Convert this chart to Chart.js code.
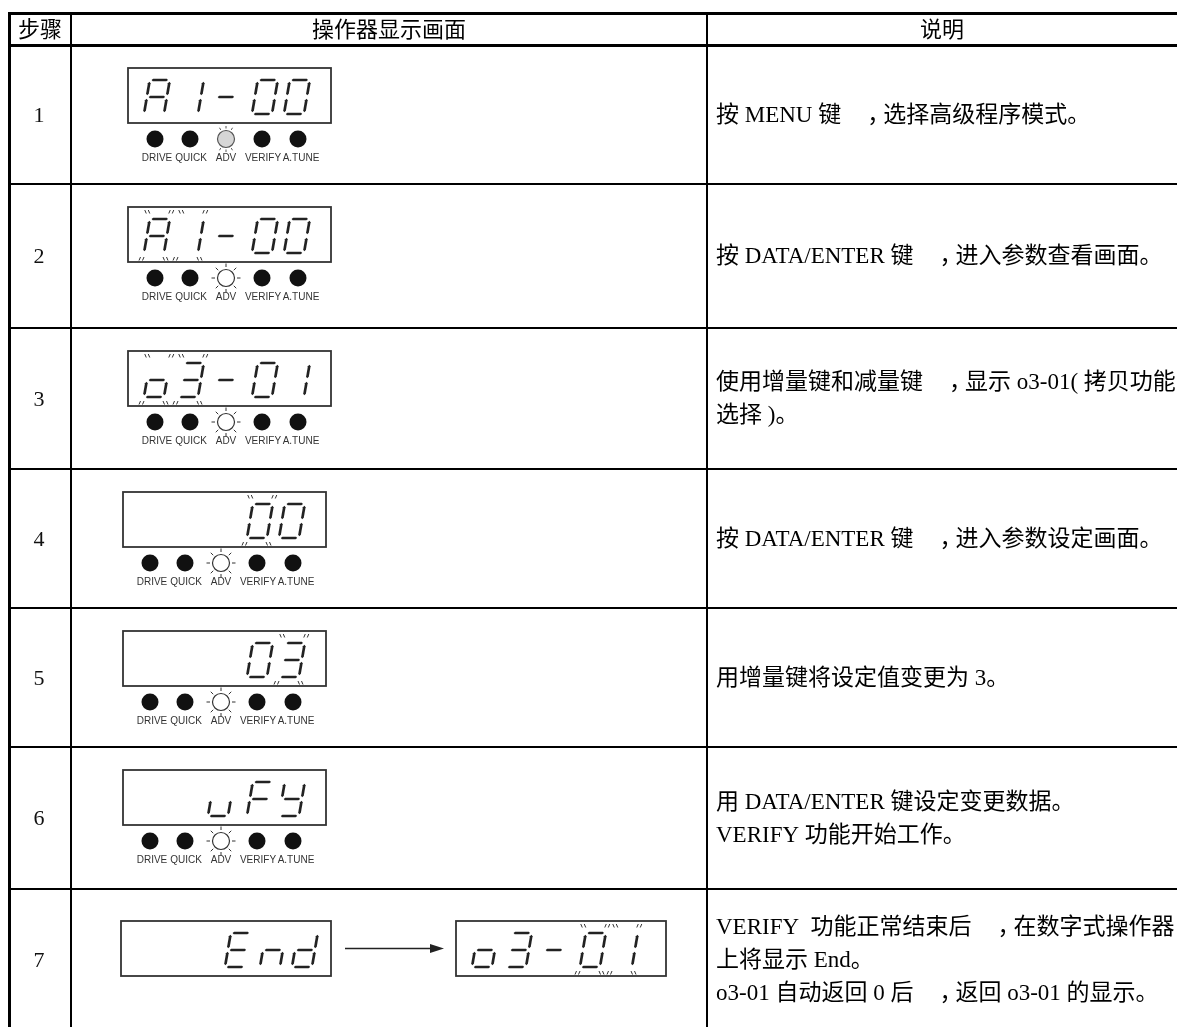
<!DOCTYPE html>
<html>
<head>
<meta charset="utf-8">
<script src="https://cdn.jsdelivr.net/npm/chart.js@4/dist/chart.umd.min.js"></script>
<style>
  html, body { margin: 0; padding: 0; background: #fff; }
  canvas { display: block; }
</style>
</head>
<body>
<canvas id="steps" width="1177" height="1027"></canvas>
<script>
// table content
const headers = ['步骤', '操作器显示画面', '说明'];
const steps = ['1', '2', '3', '4', '5', '6', '7'];
const displays = ['A1-00', 'A1-00', 'o3-01', '   00', '   03', '  uFY', '  End'];
const blinkDigits = [[], [0, 1], [0, 1], [3], [4], [], []];
const advLamp = ['dim', 'on', 'on', 'on', 'on', 'on', null];
const lampLabels = ['DRIVE', 'QUICK', 'ADV', 'VERIFY', 'A.TUNE'];
const finalDisplay = 'o3-01';
const finalBlink = [3, 4];
const notes = [
  ['按 MENU 键，选择高级程序模式。'],
  ['按 DATA/ENTER 键，进入参数查看画面。'],
  ['使用增量键和减量键，显示 o3-01( 拷贝功能', '选择 )。'],
  ['按 DATA/ENTER 键，进入参数设定画面。'],
  ['用增量键将设定值变更为 3。'],
  ['用 DATA/ENTER 键设定变更数据。', 'VERIFY 功能开始工作。'],
  ['VERIFY  功能正常结束后，在数字式操作器', '上将显示 End。', 'o3-01 自动返回 0 后，返回 o3-01 的显示。']
];

// layout (pixels of the page)
const colEdges = [9, 71, 707];
const colWidths = [3, 2, 2];
const rowEdges = [13, 45, 184, 328, 469, 608, 747, 889, 1031];
const rowWidths = [3, 3, 2, 2, 2, 2, 2, 2];

const SEGS = {
  '0': 'abcdef', '1': 'bc', '3': 'abcdg', 'A': 'abcefg', '-': 'g', 'o': 'cdeg',
  'u': 'cde', 'F': 'aefg', 'Y': 'bcdfg', 'E': 'adefg', 'n': 'ceg', 'd': 'bcdeg', ' ': ''
};
const cellOffsets = [16, 50, 85, 124, 156];
const endOffsets = [16, 50, 104, 139, 171];
const ledOffsets = [27, 62, 98, 134, 170];
const labelOffsets = [29, 63, 98, 135, 173];

const CJK = /[\u3000-\u303f\u3400-\u9fff\uff00-\uffef]/;

function drawMixed(ctx, text, x0, base) {
  const runs = text.match(/，|[\u3000-\u303f\u3400-\u9fff\uff00-\uff0b\uff0d-\uffef]+|[^\u3000-\u303f\u3400-\u9fff\uff00-\uffef]+/g);
  let xx = x0;
  ctx.textAlign = 'left';
  ctx.textBaseline = 'alphabetic';
  runs.forEach(r => {
    if (r === '，') {
      ctx.font = '23px "Noto Sans CJK SC"';
      ctx.fillText(r, xx + 26, base);
      xx += 42;
      return;
    }
    ctx.font = CJK.test(r) ? '23px "Noto Sans CJK SC"' : '23px "Liberation Serif"';
    ctx.fillText(r, xx, base);
    xx += ctx.measureText(r).width;
  });
}

function drawDigit(ctx, ch, x0, y0, blink) {
  const w = 20, h = 34, sl = 0.17, gp = 1.8, t = 2.7;
  const P = (px, py) => [x0 + px + (h - py) * sl, y0 + py];
  const H = (x1, x2, yy) => [[x1, yy], [x1 + t / 2, yy - t / 2], [x2 - t / 2, yy - t / 2], [x2, yy], [x2 - t / 2, yy + t / 2], [x1 + t / 2, yy + t / 2]];
  const V = (xx, y1, y2) => [[xx, y1], [xx + t / 2, y1 + t / 2], [xx + t / 2, y2 - t / 2], [xx, y2], [xx - t / 2, y2 - t / 2], [xx - t / 2, y1 + t / 2]];
  const shapes = {
    a: H(gp, w - gp, 0), b: V(w, gp, h / 2 - gp), c: V(w, h / 2 + gp, h - gp),
    d: H(gp, w - gp, h), e: V(0, h / 2 + gp, h - gp), f: V(0, gp, h / 2 - gp), g: H(gp, w - gp, h / 2)
  };
  ctx.fillStyle = '#222';
  for (const s of SEGS[ch] || '') {
    ctx.beginPath();
    shapes[s].forEach(([px, py], k) => {
      const [qx, qy] = P(px, py);
      k ? ctx.lineTo(qx, qy) : ctx.moveTo(qx, qy);
    });
    ctx.closePath();
    ctx.fill();
  }
  if (!blink) return;
  ctx.strokeStyle = '#333';
  ctx.lineWidth = 1;
  const [tlx, tly] = P(0, 0), [trx] = P(w, 0), [blx, bly] = P(0, h), [brx] = P(w, h);
  const pair = (px, py, dir) => {
    for (let k = 0; k < 2; k++) {
      const sx = px + k * 3.5;
      ctx.beginPath();
      if (dir > 0) { ctx.moveTo(sx, py); ctx.lineTo(sx + 1.5, py + 3.5); }
      else { ctx.moveTo(sx + 1.5, py); ctx.lineTo(sx, py + 3.5); }
      ctx.stroke();
    }
  };
  pair(tlx - 5, tly - 9, 1);
  pair(trx - 1, tly - 9, -1);
  pair(blx - 5, bly + 4, -1);
  pair(brx - 1, bly + 4, 1);
}

function drawDisplay(ctx, text, left, top, blinks, width, offsets) {
  ctx.strokeStyle = '#333';
  ctx.lineWidth = 1.8;
  ctx.strokeRect(left, top, width, 55);
  [...text].forEach((ch, k) => drawDigit(ctx, ch, left + offsets[k], top + 12, blinks.includes(k)));
}

function drawLamps(ctx, left, top, state) {
  const cy = top + 71;
  ledOffsets.forEach((off, k) => {
    const cx = left + off;
    ctx.beginPath();
    ctx.arc(cx, cy, 8.5, 0, Math.PI * 2);
    if (k === 2) {
      ctx.fillStyle = state === 'dim' ? '#d6d6d6' : '#fff';
      ctx.fill();
      ctx.strokeStyle = state === 'dim' ? '#555' : '#333';
      ctx.lineWidth = 1.2;
      ctx.stroke();
      const angles = state === 'dim' ? [-120, -90, -60, 60, 90, 120] : [-135, -90, -45, 0, 45, 90, 135, 180];
      const r0 = state === 'dim' ? 10.5 : 11, r1 = state === 'dim' ? 13 : 14.5;
      ctx.lineWidth = 1;
      angles.forEach(a => {
        const rad = a * Math.PI / 180;
        ctx.beginPath();
        ctx.moveTo(cx + Math.cos(rad) * r0, cy + Math.sin(rad) * r0);
        ctx.lineTo(cx + Math.cos(rad) * r1, cy + Math.sin(rad) * r1);
        ctx.stroke();
      });
    } else {
      ctx.fillStyle = '#111';
      ctx.fill();
    }
  });
  ctx.fillStyle = '#333';
  ctx.font = '10px "Liberation Sans"';
  ctx.textAlign = 'center';
  ctx.textBaseline = 'middle';
  lampLabels.forEach((lab, k) => ctx.fillText(lab, left + labelOffsets[k], top + 90));
}

const tablePlugin = {
  id: 'tableCells',
  afterDatasetsDraw(chart) {
    const { ctx, scales: { x, y } } = chart;
    const X = v => x.getPixelForValue(v), Y = v => y.getPixelForValue(v);
    ctx.save();
    ctx.fillStyle = '#000';
    // header
    ctx.font = '22px "Noto Sans CJK SC"';
    ctx.textAlign = 'center';
    ctx.textBaseline = 'alphabetic';
    const hx = [(colEdges[0] + colEdges[1]) / 2, (colEdges[1] + colEdges[2]) / 2, (colEdges[2] + 1177) / 2];
    headers.forEach((h, k) => ctx.fillText(h, X(hx[k]), Y(rowEdges[0] + 24)));
    // step numbers drawn at the dataset points
    const meta = chart.getDatasetMeta(0);
    ctx.font = '22px "Liberation Serif"';
    ctx.fillStyle = '#111';
    meta.data.forEach((pt, i) => ctx.fillText(steps[i], pt.x, pt.y + 7));
    // notes
    ctx.fillStyle = '#000';
    notes.forEach((lines, i) => {
      const mid = (rowEdges[i + 1] + rowEdges[i + 2]) / 2;
      lines.forEach((ln, j) => {
        const yc = mid + (j - (lines.length - 1) / 2) * 33;
        drawMixed(ctx, ln, X(colEdges[2] + 9), Y(yc + 7));
      });
    });
    // operator displays
    displays.forEach((txt, i) => {
      if (i === 6) {
        const top = Y(rowEdges[i + 1] + 32);
        drawDisplay(ctx, txt, X(121), top, blinkDigits[i], 210, endOffsets);
        // arrow
        const ay = top + 27.5;
        ctx.strokeStyle = '#222';
        ctx.lineWidth = 1.5;
        ctx.beginPath();
        ctx.moveTo(X(345), ay);
        ctx.lineTo(X(432), ay);
        ctx.stroke();
        ctx.fillStyle = '#222';
        ctx.beginPath();
        ctx.moveTo(X(444), ay);
        ctx.lineTo(X(430), ay - 4.5);
        ctx.lineTo(X(430), ay + 4.5);
        ctx.closePath();
        ctx.fill();
        drawDisplay(ctx, finalDisplay, X(456), top, finalBlink, 210, cellOffsets);
        return;
      }
      const left = X(i < 3 ? 128 : 123);
      const top = Y(rowEdges[i + 1] + 23);
      drawDisplay(ctx, txt, left, top, blinkDigits[i], 203, cellOffsets);
      drawLamps(ctx, left, top, advLamp[i]);
    });
    ctx.restore();
  }
};

new Chart(document.getElementById('steps'), {
  type: 'scatter',
  data: {
    datasets: [{
      label: '步骤',
      data: steps.map((s, i) => ({ x: (colEdges[0] + colEdges[1]) / 2 - 1, y: (rowEdges[i + 1] + rowEdges[i + 2]) / 2 })),
      pointRadius: 0,
      pointHoverRadius: 0
    }]
  },
  options: {
    responsive: false,
    animation: false,
    layout: { padding: { left: 8, top: 12, right: 0, bottom: 0 } },
    plugins: { legend: { display: false }, tooltip: { enabled: false } },
    scales: {
      x: {
        type: 'linear', min: 8, max: 1177, bounds: 'data',
        ticks: { display: false },
        border: { display: false },
        grid: { drawTicks: false, color: '#000', lineWidth: c => colWidths[c.index] || 0 },
        afterBuildTicks: axis => { axis.ticks = colEdges.map(v => ({ value: v })); }
      },
      y: {
        type: 'linear', min: 12, max: 1027, reverse: true, bounds: 'data',
        ticks: { display: false },
        border: { display: false },
        grid: { drawTicks: false, color: '#000', lineWidth: c => rowWidths[c.index] || 0 },
        afterBuildTicks: axis => { axis.ticks = rowEdges.filter(v => v < 1027).map(v => ({ value: v })); }
      }
    }
  },
  plugins: [tablePlugin]
});
</script>
</body>
</html>
